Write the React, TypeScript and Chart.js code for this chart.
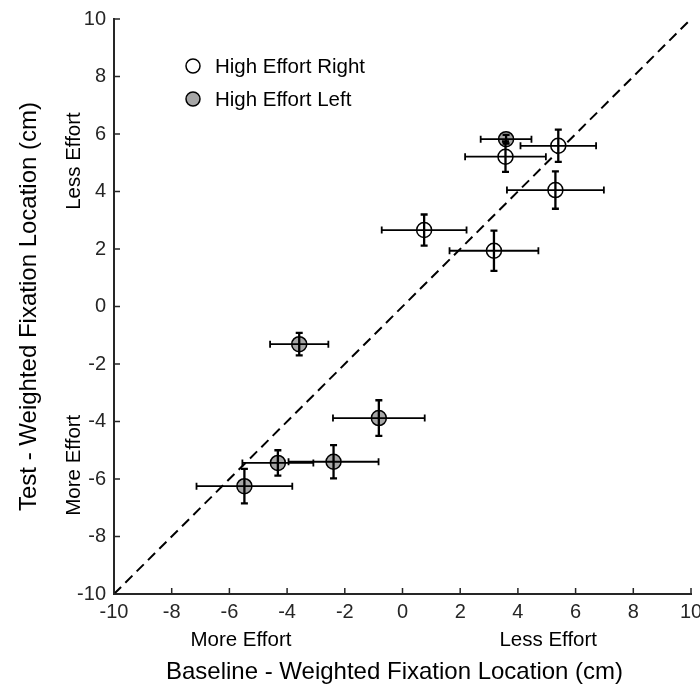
import React, { useEffect, useRef } from "react";
import { Chart, registerables } from "chart.js";

Chart.register(...registerables);

// ---- data ----
const axisMin = -10;
const axisMax = 10;
const tickStep = 2;

const seriesLabels = ["High Effort Right", "High Effort Left"];

const rightX = [3.57, 5.4, 5.3, 0.75, 3.17];
const rightY = [5.21, 5.59, 4.05, 2.66, 1.94];
const rightXErr = [1.4, 1.31, 1.68, 1.47, 1.54];
const rightYErr = [0.53, 0.56, 0.65, 0.54, 0.7];

const leftX = [3.59, -3.58, -0.82, -2.39, -4.32, -5.48];
const leftY = [5.82, -1.31, -3.88, -5.4, -5.44, -6.25];
const leftXErr = [0.88, 1.01, 1.59, 1.56, 1.23, 1.66];
const leftYErr = [0.15, 0.39, 0.62, 0.58, 0.44, 0.6];

const diagonal = [axisMin, axisMax];

const xTitle = "Baseline - Weighted Fixation Location (cm)";
const yTitle = "Test - Weighted Fixation Location (cm)";
const effortLabels = ["More Effort", "Less Effort"];

// ---- styles ----
const FONT = "'Liberation Sans', Arial, sans-serif";
const INK = "#262626";
const RIGHT_FILL = "#ffffff";
const LEFT_FILL = "#a6a6a6";

const decorPlugin = {
  id: "decor",
  afterDatasetsDraw(chart: any) {
    const { ctx, chartArea: ca } = chart;
    const xs = chart.scales.x;
    const ys = chart.scales.y;
    ctx.save();

    // inward tick marks
    ctx.strokeStyle = INK;
    ctx.lineWidth = 1.5;
    ctx.beginPath();
    xs.ticks.forEach((t: any) => {
      const px = xs.getPixelForValue(t.value);
      ctx.moveTo(px, ca.bottom);
      ctx.lineTo(px, ca.bottom - 6);
    });
    ys.ticks.forEach((t: any) => {
      const py = ys.getPixelForValue(t.value);
      ctx.moveTo(ca.left, py);
      ctx.lineTo(ca.left + 6, py);
    });
    ctx.stroke();

    // error bars
    const groups = [
      { xv: rightX, yv: rightY, ex: rightXErr, ey: rightYErr },
      { xv: leftX, yv: leftY, ex: leftXErr, ey: leftYErr },
    ];
    const cap = 3.5;
    ctx.strokeStyle = "#000";
    groups.forEach((g) =>
      g.xv.forEach((xv, i) => {
        const yv = g.yv[i];
        const px = xs.getPixelForValue(xv);
        const py = ys.getPixelForValue(yv);
        const xl = xs.getPixelForValue(xv - g.ex[i]);
        const xr = xs.getPixelForValue(xv + g.ex[i]);
        const yt = ys.getPixelForValue(yv + g.ey[i]);
        const yb = ys.getPixelForValue(yv - g.ey[i]);
        ctx.lineWidth = 1.8;
        ctx.beginPath();
        ctx.moveTo(xl, py);
        ctx.lineTo(xr, py);
        ctx.moveTo(xl, py - cap);
        ctx.lineTo(xl, py + cap);
        ctx.moveTo(xr, py - cap);
        ctx.lineTo(xr, py + cap);
        ctx.stroke();
        ctx.lineWidth = 2.3;
        ctx.beginPath();
        ctx.moveTo(px, yt);
        ctx.lineTo(px, yb);
        ctx.moveTo(px - cap, yt);
        ctx.lineTo(px + cap, yt);
        ctx.moveTo(px - cap, yb);
        ctx.lineTo(px + cap, yb);
        ctx.stroke();
      })
    );

    // legend
    const fills = [RIGHT_FILL, LEFT_FILL];
    ctx.font = `20.5px ${FONT}`;
    ctx.textAlign = "left";
    ctx.textBaseline = "middle";
    seriesLabels.forEach((lab, i) => {
      const cy = ca.top + 47 + i * 33;
      const cx = ca.left + 79;
      ctx.beginPath();
      ctx.arc(cx, cy, 7, 0, Math.PI * 2);
      ctx.fillStyle = fills[i];
      ctx.fill();
      ctx.lineWidth = 1.5;
      ctx.strokeStyle = "#000";
      ctx.stroke();
      ctx.fillStyle = "#000";
      ctx.fillText(lab, ca.left + 101, cy + 1);
    });

    // effort annotations
    ctx.fillStyle = "#000";
    ctx.font = `20.5px ${FONT}`;
    ctx.textAlign = "center";
    ctx.textBaseline = "alphabetic";
    ctx.fillText(effortLabels[0], xs.getPixelForValue(-5.6), ca.bottom + 52);
    ctx.fillText(effortLabels[1], xs.getPixelForValue(5.05), ca.bottom + 52);

    ctx.textBaseline = "middle";
    const yLabX = 74;
    [
      [effortLabels[0], -5.52],
      [effortLabels[1], 5.06],
    ].forEach(([lab, v]) => {
      ctx.save();
      ctx.translate(yLabX, ys.getPixelForValue(v as number));
      ctx.rotate(-Math.PI / 2);
      ctx.fillText(lab as string, 0, 0);
      ctx.restore();
    });

    // x-axis title
    ctx.font = `24px ${FONT}`;
    ctx.textAlign = "center";
    ctx.textBaseline = "alphabetic";
    ctx.fillText(xTitle, (ca.left + ca.right) / 2 - 8, ca.bottom + 85);

    ctx.restore();
  },
};

export default function App() {
  const ref = useRef<HTMLCanvasElement | null>(null);

  useEffect(() => {
    if (!ref.current) return;
    const chart = new Chart(ref.current, {
      type: "scatter",
      data: {
        datasets: [
          {
            label: seriesLabels[0],
            data: rightX.map((x, i) => ({ x, y: rightY[i] })),
            backgroundColor: RIGHT_FILL,
            borderColor: "#000",
            borderWidth: 1.5,
            pointRadius: 7.5,
            order: 2,
          },
          {
            label: seriesLabels[1],
            data: leftX.map((x, i) => ({ x, y: leftY[i] })),
            backgroundColor: LEFT_FILL,
            borderColor: "#000",
            borderWidth: 1.5,
            pointRadius: 7.5,
            order: 1,
          },
          {
            label: "identity",
            data: diagonal.map((v) => ({ x: v, y: v })),
            showLine: true,
            borderColor: "#000",
            borderWidth: 2,
            borderDash: [10, 6],
            pointRadius: 0,
            fill: false,
            order: 3,
          } as any,
        ],
      },
      options: {
        responsive: false,
        animation: false,
        events: [],
        layout: { padding: { left: 0, top: 19, right: 9, bottom: 0 } },
        plugins: {
          legend: { display: false },
          tooltip: { enabled: false },
        },
        scales: {
          x: {
            type: "linear",
            min: axisMin,
            max: axisMax,
            ticks: {
              stepSize: tickStep,
              color: INK,
              font: { family: FONT, size: 20 },
              padding: 6,
            },
            grid: { display: false, drawTicks: false },
            border: { display: true, color: INK, width: 2 },
            title: { display: false, text: xTitle },
            afterFit: (s: any) => {
              s.height = 92;
              s.paddingLeft = 0;
              s.paddingRight = 0;
            },
          },
          y: {
            type: "linear",
            min: axisMin,
            max: axisMax,
            ticks: {
              stepSize: tickStep,
              color: INK,
              font: { family: FONT, size: 20 },
              padding: 8,
            },
            grid: { display: false, drawTicks: false },
            border: { display: true, color: INK, width: 2 },
            title: {
              display: true,
              text: yTitle,
              color: "#000",
              font: { family: FONT, size: 24 },
              padding: { top: 15, bottom: 0 },
            },
            afterFit: (s: any) => {
              s.width = 114;
              s.paddingTop = 0;
              s.paddingBottom = 0;
            },
          },
        },
      },
      plugins: [decorPlugin],
    });
    return () => chart.destroy();
  }, []);

  return (
    <div style={{ position: "absolute", left: 0, top: 0, width: 700, height: 686, background: "#fff" }}>
      <canvas ref={ref} width={700} height={686} style={{ display: "block" }} />
    </div>
  );
}
